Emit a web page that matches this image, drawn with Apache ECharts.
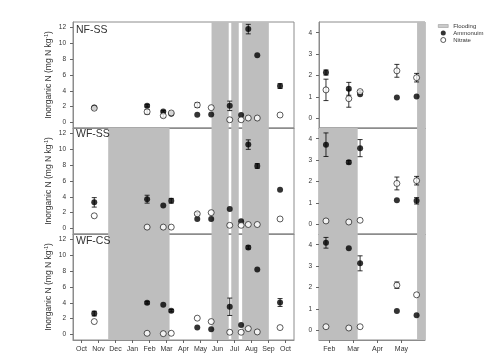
<!DOCTYPE html>
<html><head><meta charset="utf-8">
<script src="https://cdn.jsdelivr.net/npm/echarts@6/dist/echarts.min.js"></script>
<style>html,body{margin:0;padding:0;background:#fff}#c{width:500px;height:360px}</style>
</head><body><div id="c"></div>
<script>
// ---------- data ----------
const panelNames = ['NF-SS', 'WF-SS', 'WF-CS'];
// x = months since 1 Oct (label centred mid-month)
const monthLabels = ['Oct','Nov','Dec','Jan','Feb','Mar','Apr','May','Jun','Jul','Aug','Sep','Oct'];
const monthPos = [0.5,1.5,2.5,3.5,4.5,5.5,6.5,7.5,8.5,9.5,10.5,11.5,12.5];
const rightMonthLabels = ['Feb','Mar','Apr','May'];
const rightMonthPos = [4.5,5.5,6.5,7.5];
const leftTicksY = [0,2,4,6,8,10,12];
const rightTicksY = [0,1,2,3,4];

const leftDates  = [1.25, 4.36, 5.31, 5.78, 7.31, 8.13, 9.22, 9.89, 10.31, 10.84, 12.18];
const rightDates = [4.36, 5.31, 5.78, 7.31, 8.13];

// left column (first season)
const nh4LeftNFSS    = [1.9, 2.1, 1.4, 1.1, 0.98, 1.0, 2.1, 0.94, 11.8, 8.5, 4.6];
const nh4LeftNFSSErr = [0, 0.15, 0.1, 0, 0, 0, 0.6, 0, 0.6, 0, 0.3];
const no3LeftNFSS    = [1.8, 1.35, 0.85, 1.2, 2.2, 1.87, 0.34, 0.34, 0.56, 0.56, 0.94];
const no3LeftNFSSErr = [0.15, 0.3, 0.2, 0, 0.3, 0, 0, 0, 0, 0, 0];

const nh4LeftWFSS    = [3.3, 3.7, 2.9, 3.5, 1.2, 1.2, 2.45, 0.9, 10.6, 7.9, 4.9];
const nh4LeftWFSSErr = [0.6, 0.5, 0, 0.3, 0, 0, 0, 0, 0.6, 0.3, 0];
const no3LeftWFSS    = [1.6, 0.17, 0.17, 0.17, 1.85, 2.0, 0.4, 0.4, 0.5, 0.5, 1.2];
const no3LeftWFSSErr = [0, 0, 0, 0, 0.15, 0, 0, 0, 0, 0, 0];

const nh4LeftWFCS    = [2.64, 4.0, 3.75, 3.0, 0.87, 0.66, 3.5, 1.2, 11.0, 8.2, 4.04];
const nh4LeftWFCSErr = [0.3, 0.15, 0, 0.15, 0, 0, 1.1, 0, 0.2, 0, 0.5];
const no3LeftWFCS    = [1.63, 0.15, 0.1, 0.15, 2.06, 1.63, 0.28, 0.28, 0.74, 0.32, 0.87];
const no3LeftWFCSErr = [0, 0, 0, 0, 0, 0, 0, 0, 0, 0, 0];

// right column (second season)
const nh4RightNFSS    = [2.14, 1.38, 1.13, 0.98, 1.02];
const nh4RightNFSSErr = [0.12, 0.3, 0, 0, 0];
const no3RightNFSS    = [1.33, 0.92, 1.25, 2.22, 1.9];
const no3RightNFSSErr = [0.5, 0.4, 0.05, 0.3, 0.2];

const nh4RightWFSS    = [3.72, 2.9, 3.56, 1.13, 1.1];
const nh4RightWFSSErr = [0.55, 0.08, 0.4, 0, 0.15];
const no3RightWFSS    = [0.16, 0.11, 0.19, 1.91, 2.04];
const no3RightWFSSErr = [0, 0, 0, 0.3, 0.2];

const nh4RightWFCS    = [4.09, 3.84, 3.13, 0.91, 0.7];
const nh4RightWFCSErr = [0.25, 0, 0.35, 0, 0];
const no3RightWFCS    = [0.17, 0.11, 0.17, 2.11, 1.66];
const no3RightWFCSErr = [0, 0, 0, 0.15, 0];

// flooding periods (months since 1 Oct)
const floodWinter = [[2.07, 5.68]];
const floodSummer = [[8.15, 9.16], [9.31, 9.75], [9.95, 11.52]];
const floodNFSS = floodSummer;
const floodWF = floodWinter.concat(floodSummer);

// ---------- layout ----------
const FONT = 'Liberation Sans, Arial, sans-serif';
const TXT = '#333';
const GRAYLINE = '#8c8c8c';
const leftX = {min: 0, max: 13};
const rightX = {min: 4.07, max: 8.48};
const leftY = {min: -0.7, max: 12.7};
const rightY = {min: -0.45, max: 4.5};
const tops = [22, 128, 234];
const H = 106;

const panels = [
  {col: 0, row: 0, nh4: nh4LeftNFSS, nh4e: nh4LeftNFSSErr, no3: no3LeftNFSS, no3e: no3LeftNFSSErr, flood: floodNFSS},
  {col: 0, row: 1, nh4: nh4LeftWFSS, nh4e: nh4LeftWFSSErr, no3: no3LeftWFSS, no3e: no3LeftWFSSErr, flood: floodWF},
  {col: 0, row: 2, nh4: nh4LeftWFCS, nh4e: nh4LeftWFCSErr, no3: no3LeftWFCS, no3e: no3LeftWFCSErr, flood: floodWF},
  {col: 1, row: 0, nh4: nh4RightNFSS, nh4e: nh4RightNFSSErr, no3: no3RightNFSS, no3e: no3RightNFSSErr, flood: floodNFSS},
  {col: 1, row: 1, nh4: nh4RightWFSS, nh4e: nh4RightWFSSErr, no3: no3RightWFSS, no3e: no3RightWFSSErr, flood: floodWF},
  {col: 1, row: 2, nh4: nh4RightWFCS, nh4e: nh4RightWFCSErr, no3: no3RightWFCS, no3e: no3RightWFCSErr, flood: floodWF}
];

const grid = [], xAxis = [], yAxis = [], series = [];

function errSeries(xs, ys, es, idx) {
  const data = [];
  xs.forEach((x, i) => { if (es[i] > 0) data.push([x, ys[i] - es[i], ys[i] + es[i]]); });
  return {
    type: 'custom', name: 'err', xAxisIndex: idx, yAxisIndex: idx, z: 2, silent: true,
    data: data, encode: {x: 0, y: [1, 2]},
    renderItem: function (params, api) {
      const x = api.value(0);
      const p1 = api.coord([x, api.value(1)]);
      const p2 = api.coord([x, api.value(2)]);
      const w = 2.5, st = {stroke: '#000', lineWidth: 0.8};
      return {type: 'group', children: [
        {type: 'line', shape: {x1: p1[0], y1: p1[1], x2: p2[0], y2: p2[1]}, style: st},
        {type: 'line', shape: {x1: p1[0] - w, y1: p1[1], x2: p1[0] + w, y2: p1[1]}, style: st},
        {type: 'line', shape: {x1: p2[0] - w, y1: p2[1], x2: p2[0] + w, y2: p2[1]}, style: st}
      ]};
    }
  };
}

panels.forEach((p, idx) => {
  const isLeft = p.col === 0;
  const bottom = p.row === 2;
  const xr = isLeft ? leftX : rightX;
  const yr = isLeft ? leftY : rightY;
  const xs = isLeft ? leftDates : rightDates;
  grid.push({left: isLeft ? 73 : 319, top: tops[p.row], width: isLeft ? 221 : 106, height: H,
             show: true, borderColor: GRAYLINE, borderWidth: 1, backgroundColor: 'transparent'});
  xAxis.push({
    type: 'value', gridIndex: idx, min: xr.min, max: xr.max,
    axisLine: {show: true, onZero: false, lineStyle: {color: GRAYLINE, width: 1}},
    splitLine: {show: false},
    axisTick: {show: bottom, length: 3, lineStyle: {color: '#666'},
               customValues: isLeft ? monthPos : rightMonthPos},
    axisLabel: {show: bottom, fontSize: 7, color: TXT, fontFamily: FONT, margin: 6,
                customValues: isLeft ? monthPos : rightMonthPos,
                formatter: function (v) {
                  const pos = isLeft ? monthPos : rightMonthPos;
                  const lab = isLeft ? monthLabels : rightMonthLabels;
                  const i = pos.findIndex(q => Math.abs(q - v) < 1e-6);
                  return i >= 0 ? lab[i] : '';
                }}
  });
  yAxis.push({
    type: 'value', gridIndex: idx, min: yr.min, max: yr.max,
    axisLine: {show: true, onZero: false, lineStyle: {color: GRAYLINE, width: 1}},
    splitLine: {show: false},
    axisTick: {show: true, length: 3, lineStyle: {color: '#666'}, customValues: isLeft ? leftTicksY : rightTicksY},
    axisLabel: {fontSize: 6.5, color: TXT, fontFamily: FONT, margin: 7, customValues: isLeft ? leftTicksY : rightTicksY},
    name: isLeft ? '{n|Inorganic N (mg N kg}{s|-1}{n|)}' : '',
    nameLocation: 'middle', nameGap: 20,
    nameTextStyle: {fontFamily: FONT, color: TXT,
      rich: {n: {fontSize: 8.5, fontFamily: FONT, color: TXT, verticalAlign: 'bottom'},
             s: {fontSize: 5, fontFamily: FONT, color: TXT, verticalAlign: 'top'}}}
  });
  // flooding bands, clipped to this axis range
  const areas = [];
  p.flood.forEach(b => {
    const a = Math.max(b[0], xr.min), c = Math.min(b[1], xr.max);
    if (c > a) areas.push([{xAxis: a}, {xAxis: c}]);
  });
  series.push({
    type: 'scatter', name: 'Flooding', xAxisIndex: idx, yAxisIndex: idx, z: -1, data: [], silent: true,
    itemStyle: {color: '#bebebe'},
    markArea: {silent: true, itemStyle: {color: '#bebebe'}, data: areas}
  });
  series.push(errSeries(xs, p.nh4, p.nh4e, idx));
  series.push(errSeries(xs, p.no3, p.no3e, idx));
  series.push({
    type: 'scatter', name: 'Ammonuim', xAxisIndex: idx, yAxisIndex: idx, z: 3,
    symbol: 'circle', symbolSize: 6, itemStyle: {color: '#000'},
    data: xs.map((x, i) => [x, p.nh4[i]])
  });
  series.push({
    type: 'scatter', name: 'Nitrate', xAxisIndex: idx, yAxisIndex: idx, z: 4,
    symbol: 'circle', symbolSize: 6, itemStyle: {color: '#fff', borderColor: '#000', borderWidth: 0.8},
    data: xs.map((x, i) => [x, p.no3[i]])
  });
});

const chart = echarts.init(document.getElementById('c'), null, {renderer: 'canvas'});
chart.setOption({
  animation: false,
  backgroundColor: '#fff',
  textStyle: {fontFamily: FONT},
  title: panelNames.map((t, i) => ({
    text: t, left: 76, top: [25, 129, 236][i], padding: 0,
    textStyle: {fontSize: 10.5, fontWeight: 'normal', color: TXT, fontFamily: FONT}
  })),
  legend: {
    orient: 'vertical', left: 438, top: 23, padding: 0, itemWidth: 10, itemHeight: 5, itemGap: 1,
    selectedMode: false,
    textStyle: {fontSize: 6, color: TXT, fontFamily: FONT, lineHeight: 6},
    data: [
      {name: 'Flooding', icon: 'path://M0,0H10V3H0Z', itemStyle: {color: '#bebebe', borderColor: '#777', borderWidth: 0.5}},
      {name: 'Ammonuim', icon: 'circle', itemStyle: {color: '#000'}},
      {name: 'Nitrate', icon: 'circle', itemStyle: {color: '#fff', borderColor: '#000', borderWidth: 0.8}}
    ]
  },
  grid: grid, xAxis: xAxis, yAxis: yAxis, series: series
});
</script>
</body></html>
